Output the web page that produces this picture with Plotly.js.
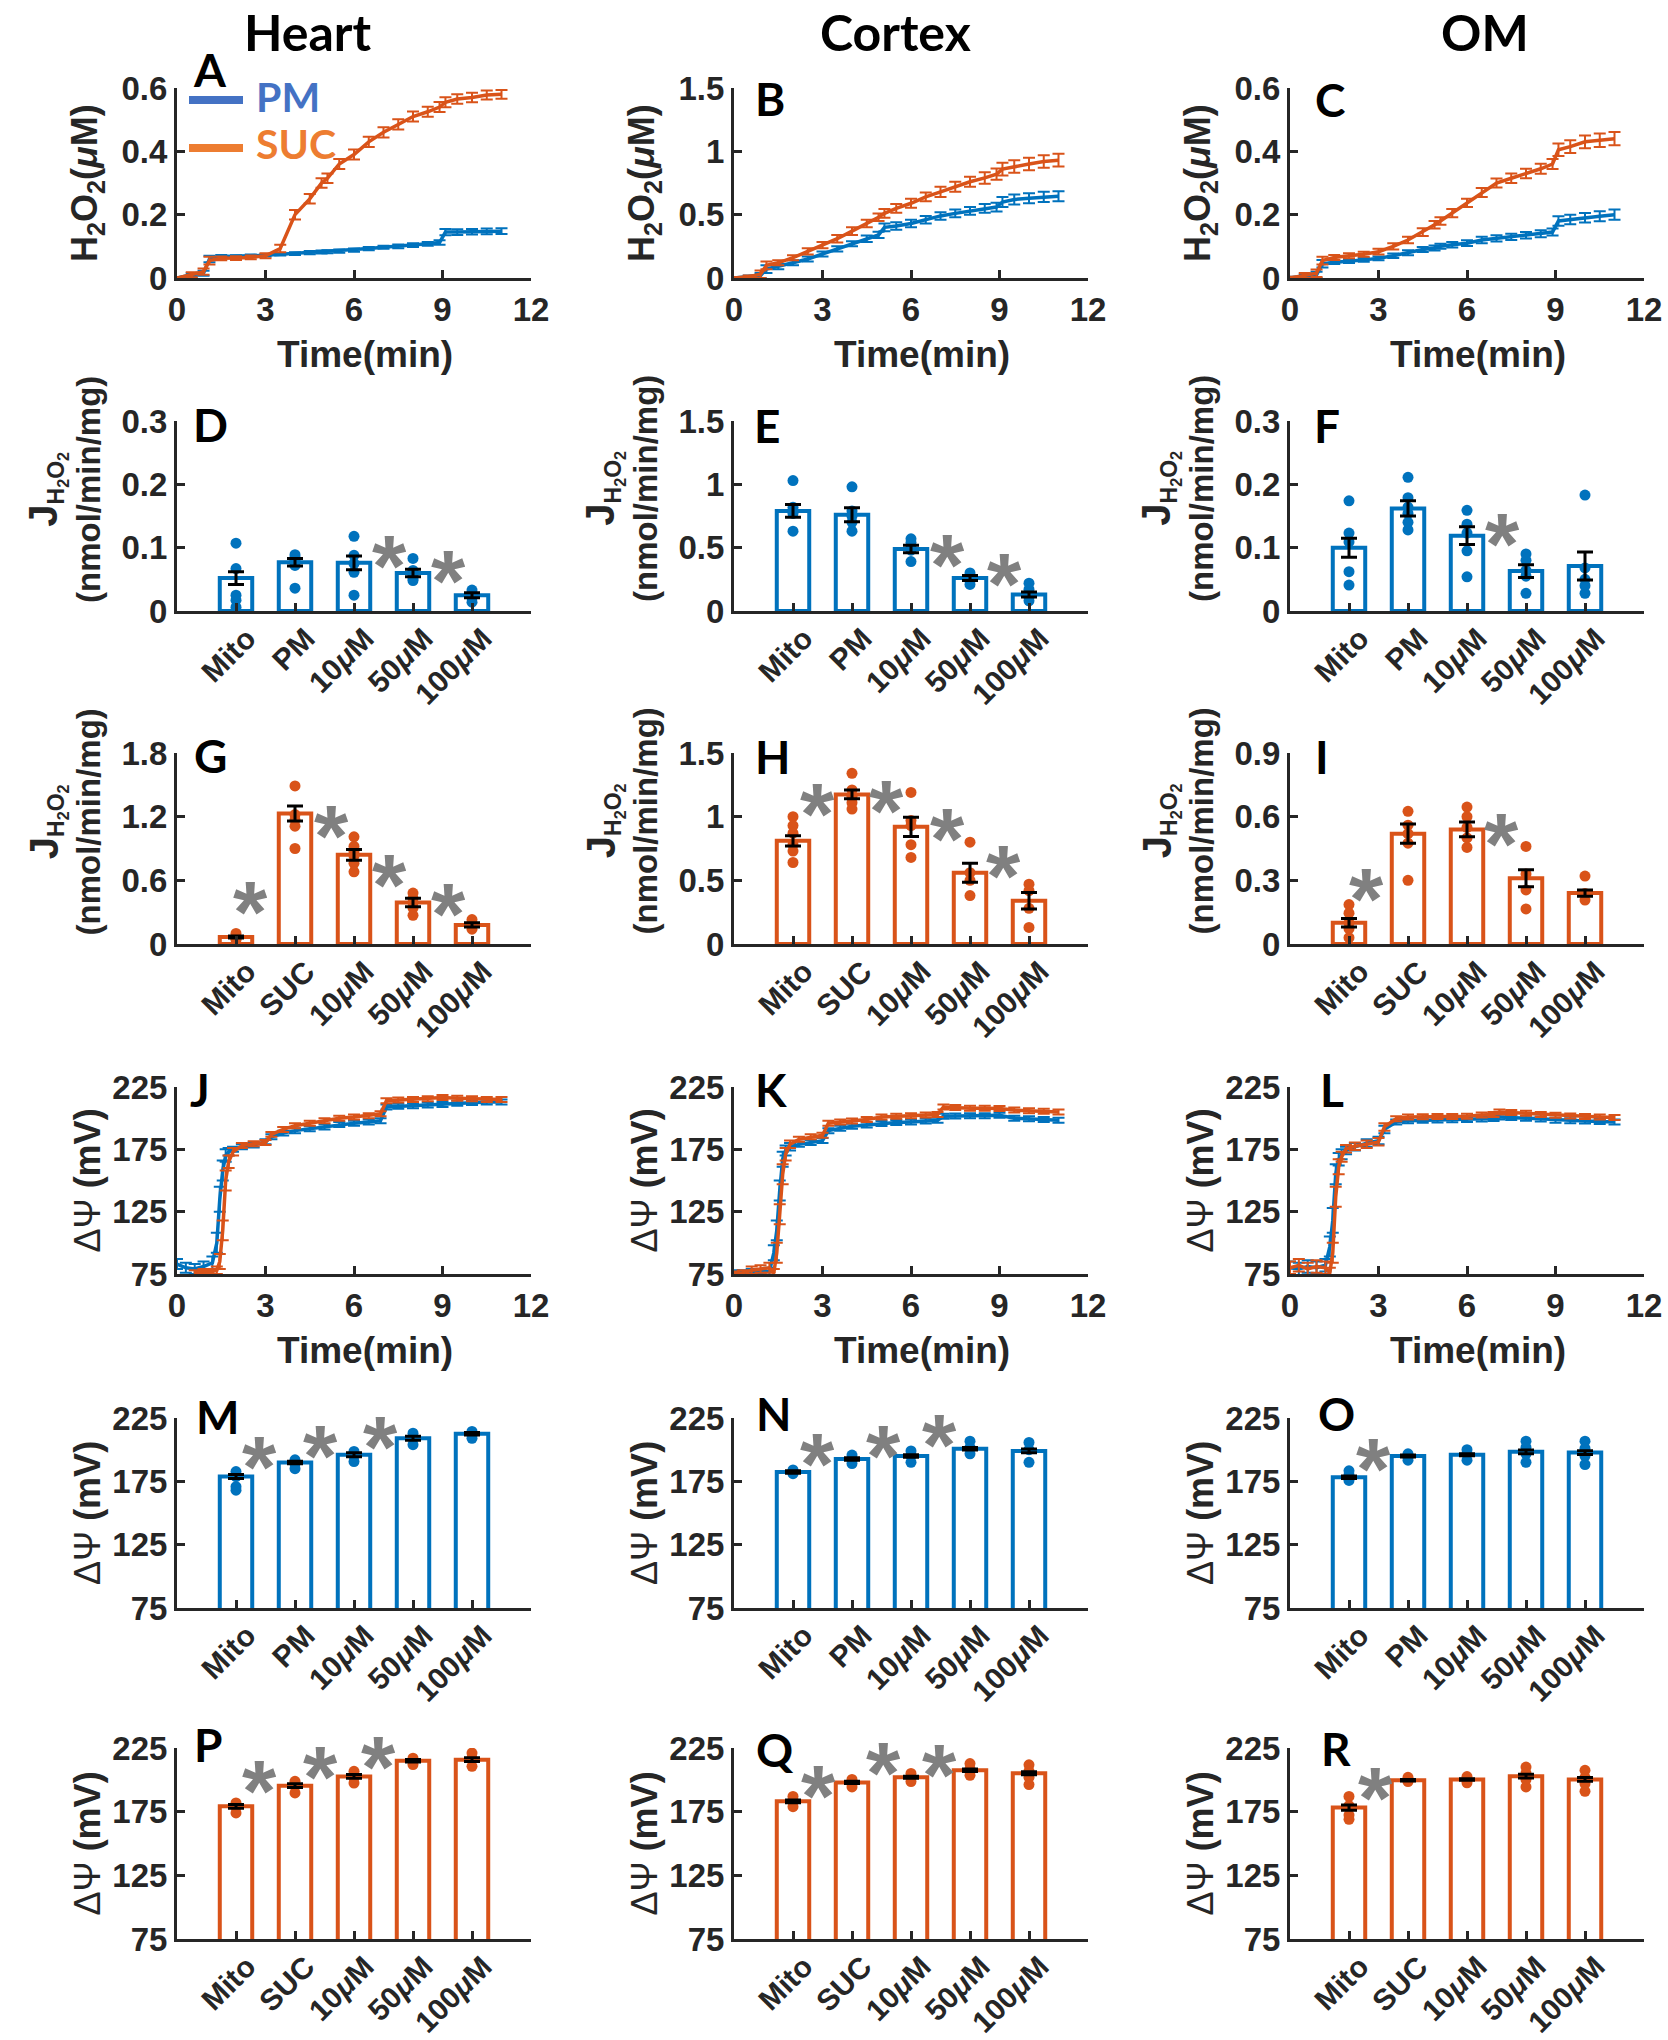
<!DOCTYPE html>
<html><head><meta charset="utf-8">
<script src="https://cdn.plot.ly/plotly-3.0.1.min.js"></script>
<style>html,body{margin:0;padding:0;background:#fff}#chart{width:1668px;height:2040px}</style>
</head><body><div id="chart"></div>
<script>
// ---------------- DATA ----------------
const tH2O2 = [0,0.5,0.9,1.1,1.5,2,2.5,3,3.5,4,4.5,4.9,5.1,5.5,6,6.5,7,7.5,8,8.5,8.9,9.1,9.5,10,10.5,11];
const A_PM = [0,0.01,0.015,0.06,0.068,0.068,0.07,0.072,0.075,0.077,0.08,0.082,0.083,0.085,0.088,0.093,0.097,0.10,0.104,0.108,0.112,0.145,0.145,0.146,0.147,0.148];
const A_PM_err = [0.003,0.006,0.008,0.01,0.005,0.004,0.004,0.004,0.004,0.004,0.005,0.005,0.005,0.005,0.005,0.005,0.005,0.006,0.006,0.006,0.007,0.01,0.009,0.009,0.009,0.009];
const A_SUC = [0,0.01,0.02,0.055,0.062,0.063,0.065,0.07,0.093,0.20,0.25,0.30,0.315,0.36,0.39,0.43,0.46,0.485,0.51,0.525,0.54,0.555,0.565,0.57,0.578,0.58];
const A_SUC_err = [0.003,0.008,0.01,0.012,0.006,0.006,0.006,0.008,0.012,0.015,0.015,0.015,0.015,0.016,0.016,0.016,0.016,0.016,0.016,0.016,0.016,0.016,0.015,0.015,0.014,0.014];
const B_PM = [0,0.01,0.02,0.07,0.09,0.12,0.15,0.19,0.23,0.27,0.31,0.34,0.40,0.41,0.43,0.46,0.49,0.51,0.53,0.55,0.56,0.60,0.62,0.63,0.64,0.645];
const B_PM_err = [0.005,0.01,0.02,0.03,0.02,0.02,0.02,0.02,0.02,0.02,0.025,0.025,0.03,0.03,0.03,0.03,0.03,0.03,0.03,0.035,0.035,0.04,0.04,0.04,0.04,0.04];
const B_SUC = [0,0.01,0.03,0.10,0.12,0.16,0.21,0.26,0.31,0.37,0.43,0.48,0.51,0.55,0.59,0.64,0.68,0.72,0.76,0.79,0.82,0.86,0.88,0.90,0.92,0.93];
const B_SUC_err = [0.005,0.01,0.03,0.03,0.02,0.02,0.025,0.025,0.03,0.03,0.03,0.03,0.035,0.035,0.035,0.035,0.04,0.04,0.04,0.045,0.045,0.05,0.05,0.05,0.05,0.05];
const C_PM = [0,0.005,0.01,0.045,0.05,0.053,0.057,0.062,0.07,0.08,0.09,0.095,0.10,0.105,0.11,0.12,0.125,0.13,0.135,0.14,0.145,0.18,0.185,0.19,0.195,0.20];
const C_PM_err = [0.004,0.006,0.01,0.012,0.006,0.006,0.006,0.006,0.007,0.008,0.008,0.008,0.008,0.009,0.009,0.01,0.01,0.01,0.01,0.011,0.011,0.015,0.015,0.015,0.016,0.016];
const C_SUC = [0,0.008,0.015,0.055,0.065,0.07,0.075,0.083,0.10,0.12,0.145,0.168,0.18,0.205,0.237,0.27,0.30,0.315,0.33,0.345,0.36,0.405,0.415,0.43,0.435,0.44];
const C_SUC_err = [0.004,0.008,0.012,0.012,0.008,0.008,0.008,0.009,0.01,0.01,0.012,0.012,0.012,0.013,0.013,0.014,0.014,0.015,0.015,0.016,0.016,0.02,0.02,0.02,0.021,0.021];

const tPsi = [0,0.3,0.6,0.9,1.2,1.35,1.45,1.55,1.65,1.75,1.9,2.2,2.6,3,3.2,3.6,4,4.5,5,5.5,6,6.5,6.9,7.1,7.5,8,8.5,9,9.5,10,10.5,11];
const J_PM = [83,80,79,81,84,100,135,158,170,173,175,177,178.5,181,185,188,190,191.5,193,195,196,197,198,209,209.5,210,210.5,211,212,212.5,213,213];
const J_PM_err = [4,4,4,4,5,8,10,8,5,3,2,2,2,2,2,2,2,2,2,2,2,2,2,2,2,2,2,2,2,2,2,2];
const J_SUC = [null,null,76,77,77,78,85,110,150,165,173,178,179.5,180.5,187,191,194,196,198,200,201,202,203.5,214,214.5,215,215.5,216.5,216,215.5,215,215];
const J_SUC_err = [0,0,2,2,2,3,6,8,8,5,3,2,2,2,2,2,2,2,2,2,2,2,2,2,2,2,2,2,2,2,2,2];
const K_PM = [76,76,77,77,77,92,110,142,167,174,177,179,180.5,182,190,192,193.5,194.5,195.7,196.5,197,197.8,198.3,201.5,201.7,202,202,202.3,200,199.5,199,198.3];
const K_PM_err = [2,2,2,2,3,6,8,8,6,4,3,2,2,2,2,2,2,2,2,2,2,2,2,2,2,2,2,2,2,2,2,2];
const K_SUC = [75,76,78,79,80,76,92,123,155,171,179,183,185,186.3,196,197,197.8,199,201,201.5,202,202.5,203,209,208.5,208,208,207.7,206.5,206,205.5,205];
const K_SUC_err = [2,2,3,3,4,3,8,8,8,5,3,2,2,2,2,2,2,2,2,2,2,2,2,2,2,2,2,2,2,2,2,2];
const L_PM = [80,79,81,80,82,97,118,155,167,171,174,177,180,182,191,197,198,198.3,198.5,198.7,199,199.3,199.7,201,200.5,200,199.3,198.3,198,197.7,197.3,197];
const L_PM_err = [5,5,5,5,5,8,10,8,5,4,3,3,3,3,3,2,2,2,2,2,2,2,2,2,2,2,2,2,2,2,2,2];
const L_SUC = [80,82,79,81,80,76,92,137,161,169,175.5,177.5,179,181,193,199.5,201,201.2,201.3,201.4,201.5,202.5,203,205,204.5,204,203,202.3,201.8,201.3,201,200.5];
const L_SUC_err = [5,5,5,5,5,4,8,8,6,4,3,3,3,3,3,2,2,2,2,2,2,2,2,2,2,2,2,2,2,2,2,2];

const catPM = ['Mito','PM','10μM','50μM','100μM'];
const catSUC = ['Mito','SUC','10μM','50μM','100μM'];
const labPM = ['Mito','PM','10<i>μ</i>M','50<i>μ</i>M','100<i>μ</i>M'];
const labSUC = ['Mito','SUC','10<i>μ</i>M','50<i>μ</i>M','100<i>μ</i>M'];

const D_mean = [0.052,0.077,0.076,0.060,0.025];
const D_sem = [0.010,0.006,0.011,0.006,0.004];
const D_pts = [[0.107,0.067,0.025,0.017,0.006],[0.089,0.085,0.080,0.072,0.036],[0.118,0.088,0.075,0.061,0.025],[0.083,0.064,0.056,0.051,0.048],[0.033,0.028,0.027,0.021,0.014]];
const D_sigX = [2.6,3.6], D_sigY = [0.09,0.067];

const E_mean = [0.79,0.76,0.49,0.26,0.13];
const E_sem = [0.05,0.055,0.03,0.02,0.02];
const E_pts = [[1.03,0.82,0.79,0.77,0.63],[0.98,0.79,0.75,0.70,0.63],[0.57,0.54,0.50,0.48,0.39],[0.30,0.27,0.25,0.24,0.21],[0.22,0.17,0.14,0.11,0.08]];
const E_sigX = [2.62,3.59], E_sigY = [0.46,0.31];

const F_mean = [0.10,0.162,0.119,0.063,0.071];
const F_sem = [0.015,0.012,0.014,0.01,0.022];
const F_pts = [[0.174,0.123,0.109,0.062,0.041],[0.211,0.179,0.164,0.154,0.14,0.128],[0.159,0.137,0.123,0.095,0.054],[0.09,0.08,0.064,0.055,0.028],[0.183,0.068,0.05,0.04,0.028]];
const F_sigX = [2.61], F_sigY = [0.126];

const G_mean = [0.066,1.23,0.84,0.39,0.18];
const G_sem = [0.01,0.07,0.05,0.04,0.02];
const G_pts = [[0.10,0.07,0.05,0.04],[1.49,1.22,1.17,1.11,0.90],[1.01,0.92,0.87,0.83,0.76,0.68],[0.48,0.43,0.39,0.34,0.27],[0.23,0.20,0.18,0.14]];
const G_sigX = [0.25,1.62,2.6,3.6], G_sigY = [0.42,1.14,0.67,0.40];

const H_mean = [0.81,1.175,0.92,0.56,0.34];
const H_sem = [0.04,0.035,0.075,0.075,0.065];
const H_pts = [[1.0,0.93,0.87,0.78,0.73,0.64],[1.34,1.21,1.16,1.11,1.06],[1.19,0.97,0.93,0.78,0.68],[0.80,0.56,0.50,0.38],[0.47,0.42,0.28,0.13]];
const H_sigX = [0.41,1.59,2.62,3.56], H_sigY = [1.12,1.14,0.92,0.63];

const I_mean = [0.10,0.52,0.54,0.31,0.24];
const I_sem = [0.02,0.045,0.035,0.04,0.015];
const I_pts = [[0.186,0.145,0.10,0.072,0.03],[0.625,0.56,0.52,0.475,0.30],[0.645,0.60,0.55,0.50,0.455],[0.46,0.33,0.255,0.165],[0.32,0.238,0.207]];
const I_sigX = [0.30,2.58], I_sigY = [0.27,0.53];

const M_mean = [178.8,189.9,196,209,212.6];
const M_sem = [1.5,1,1.5,1.5,1];
const M_pts = [[182.7,178.8,170.8,168],[192,189,185],[198.6,195,190.6],[213,209,203.9],[214.4,211.8,209]];
const M_sigX = [0.40,1.44,2.45], M_sigY = [196,205,211.8];

const N_mean = [182.3,192.7,195,200.7,199];
const N_sem = [1,1,1,1,1.5];
const N_pts = [[184,181],[195.7,191.7,189],[199,195,190],[206.7,201.7,196.7],[205.7,200,190]];
const N_sigX = [0.41,1.53,2.49], N_sigY = [198.3,205,213.3];

const O_mean = [178.3,195,196,198.3,197.7];
const O_sem = [1,0.8,0.8,1.5,1.5];
const O_pts = [[183.3,180,175.7],[196.7,194.3,191.7],[200,196.7,191.7],[206.7,201.7,196.7,190],[206.7,201,195,188.3]];
const O_sigX = [0.42], O_sigY = [195];

const P_mean = [179.2,195.4,202.7,215,215.8];
const P_sem = [1.5,1.5,1.5,1,1.5];
const P_pts = [[181.8,178.7,174],[198.8,194.9,189.7],[206.7,201.4,197.5],[217,214.5,212],[221,217,210.6]];
const P_sigX = [0.40,1.44,2.42], P_sigY = [201.4,211.9,219.8];

const Q_mean = [183.1,198,202,207.5,205.2];
const Q_sem = [1,0.8,0.8,1,1.2];
const Q_pts = [[187,183.8,178.9],[200.3,197,194.4],[205,202,198.6],[212.8,208.5,203.6],[211.8,206.9,202,196.3]];
const Q_sigX = [0.44,1.53,2.49], Q_sigY = [197,215,213.5];

const R_mean = [178.2,199.6,200.3,202.9,200.3];
const R_sem = [2,0.6,0.6,1.5,1.5];
const R_pts = [[187,179.8,172.3,169],[202,198.6],[202.6,200.3,197.7],[210,205.2,200.3,194.4],[207.5,202,197,191]];
const R_sigX = [0.45], R_sigY = [195.3];

const colTitles = ['Heart','Cortex','OM'];
const panelLetters = ['A','B','C','D','E','F','G','H','I','J','K','L','M','N','O','P','Q','R'];
const legendNames = ['PM','SUC'];

// ---------------- LAYOUT ----------------
const W = 1668, H = 2040;
const BLUE = '#0072BD', ORANGE = '#D95319', AXC = '#262626', GREY = '#808080';
const FONT = 'Liberation Sans, Arial, sans-serif';
const TFONT = 'Lato, Open Sans, sans-serif';
const colX = [[177,531],[734,1088],[1290,1644]];
const rowY = [[88,278],[421,611],[753,944],[1087,1274],[1418,1608],[1748,1939]];
const px = p => p / W, py = p => 1 - p / H;
const xr = n => n === 1 ? 'x' : 'x' + n;
const yr = n => n === 1 ? 'y' : 'y' + n;

const layout = {width:W, height:H, margin:{l:0,r:0,t:0,b:0}, paper_bgcolor:'#fff', plot_bgcolor:'rgba(0,0,0,0)',
  showlegend:false, font:{family:FONT, color:AXC, size:32, weight:'bold'}, annotations:[], shapes:[]};
const traces = [];

function axisBase(){
  return {showline:true, linewidth:3, linecolor:AXC, ticks:'inside', ticklen:8, tickwidth:3, tickcolor:AXC,
    showgrid:false, zeroline:false, fixedrange:true, automargin:false,
    tickfont:{family:FONT, size:33, color:AXC, weight:'bold'}};
}
function setAxes(n, r, c, xopt, yopt){
  const xa = Object.assign(axisBase(), {domain:[px(colX[c][0]), px(colX[c][1])], anchor:yr(n)}, xopt);
  const ya = Object.assign(axisBase(), {domain:[py(rowY[r][1]), py(rowY[r][0])], anchor:xr(n)}, yopt);
  layout[n === 1 ? 'xaxis' : 'xaxis' + n] = xa;
  layout[n === 1 ? 'yaxis' : 'yaxis' + n] = ya;
}
function ann(o){ layout.annotations.push(Object.assign({showarrow:false, xref:'paper', yref:'paper', xanchor:'center', yanchor:'middle'}, o)); }

function linePanel(n, r, c, t, pm, pmE, suc, sucE, yRange, yTicks, ytitle){
  setAxes(n, r, c, {range:[0,12], tickvals:[0,3,6,9,12], ticklabelstandoff:0},
                   {range:yRange, tickvals:yTicks, ticklabelstandoff:0});
  [[pm,pmE,BLUE],[suc,sucE,ORANGE]].forEach(([y,e,col]) => traces.push({
    type:'scatter', mode:'lines', x:t, y:y, xaxis:xr(n), yaxis:yr(n),
    line:{color:col, width:3.5}, error_y:{type:'data', array:e, visible:true, color:col, thickness:2, width:6}
  }));
  ann({x:px((colX[c][0]+colX[c][1])/2 + 11), y:py(rowY[r][1]+76), text:'Time(min)', font:{family:FONT,size:37,color:AXC,weight:'bold'}});
  ann({x:px(colX[c][0]-90), y:py((rowY[r][0]+rowY[r][1])/2), text:ytitle, textangle:-90, font:{family:FONT,size:36,color:AXC,weight:'bold'}});
}

function barPanel(n, r, c, cats, labels, mean, sem, pts, sigX, sigY, col, yRange, yTicks, ytitle, twoLine){
  setAxes(n, r, c, {type:'category', categoryorder:'array', categoryarray:cats, range:[-1,5], tickmode:'array',
                    tickvals:cats, ticktext:labels, tickangle:-45, ticklabelstandoff:-5, ticklabelshift:11,
                    tickfont:{family:FONT, size:30, color:AXC, weight:'bold'}},
                   {range:yRange, tickvals:yTicks, ticklabelstandoff:0});
  traces.push({type:'bar', x:cats, y:mean, width:0.55, xaxis:xr(n), yaxis:yr(n),
    marker:{color:'#ffffff', line:{color:col, width:4}}});
  const sx = [], sy = [];
  pts.forEach((arr, i) => arr.forEach(v => { sx.push(cats[i]); sy.push(v); }));
  traces.push({type:'scatter', mode:'markers', x:sx, y:sy, xaxis:xr(n), yaxis:yr(n), marker:{color:col, size:11}});
  traces.push({type:'scatter', mode:'markers', x:cats, y:mean, xaxis:xr(n), yaxis:yr(n),
    marker:{size:2, color:'rgba(0,0,0,0)'}, error_y:{type:'data', array:sem, visible:true, color:'#000', thickness:3, width:8}});
  sigX.forEach((x, i) => layout.annotations.push({xref:xr(n), yref:yr(n), x:x, y:sigY[i], text:'*', showarrow:false,
    xanchor:'center', yanchor:'middle', yshift:-12, font:{family:FONT, size:88, color:GREY, weight:'bold'}}));
  const yc = (rowY[r][0]+rowY[r][1])/2;
  ann({x:px(colX[c][0] - (twoLine ? 113 : 90)), y:py(twoLine ? yc - 27 : yc), text:ytitle, textangle:-90,
       font:{family:FONT,size:(twoLine ? 33 : 36),color:AXC,weight:'bold'}});
}

const tH = 'H<sub>2</sub>O<sub>2</sub>(<i>μ</i>M)';
const tJ = '<span style="font-size:40px">J</span><sub>H<sub>2</sub>O<sub>2</sub></sub><br>(nmol/min/mg)';
const tP = '<span style="font-weight:normal">ΔΨ</span> (mV)';

linePanel(1,0,0,tH2O2,A_PM,A_PM_err,A_SUC,A_SUC_err,[0,0.6],[0,0.2,0.4,0.6],tH);
linePanel(2,0,1,tH2O2,B_PM,B_PM_err,B_SUC,B_SUC_err,[0,1.5],[0,0.5,1,1.5],tH);
linePanel(3,0,2,tH2O2,C_PM,C_PM_err,C_SUC,C_SUC_err,[0,0.6],[0,0.2,0.4,0.6],tH);

barPanel(4,1,0,catPM,labPM,D_mean,D_sem,D_pts,D_sigX,D_sigY,BLUE,[0,0.3],[0,0.1,0.2,0.3],tJ,true);
barPanel(5,1,1,catPM,labPM,E_mean,E_sem,E_pts,E_sigX,E_sigY,BLUE,[0,1.5],[0,0.5,1,1.5],tJ,true);
barPanel(6,1,2,catPM,labPM,F_mean,F_sem,F_pts,F_sigX,F_sigY,BLUE,[0,0.3],[0,0.1,0.2,0.3],tJ,true);

barPanel(7,2,0,catSUC,labSUC,G_mean,G_sem,G_pts,G_sigX,G_sigY,ORANGE,[0,1.8],[0,0.6,1.2,1.8],tJ,true);
barPanel(8,2,1,catSUC,labSUC,H_mean,H_sem,H_pts,H_sigX,H_sigY,ORANGE,[0,1.5],[0,0.5,1,1.5],tJ,true);
barPanel(9,2,2,catSUC,labSUC,I_mean,I_sem,I_pts,I_sigX,I_sigY,ORANGE,[0,0.9],[0,0.3,0.6,0.9],tJ,true);

linePanel(10,3,0,tPsi,J_PM,J_PM_err,J_SUC,J_SUC_err,[75,225],[75,125,175,225],tP);
linePanel(11,3,1,tPsi,K_PM,K_PM_err,K_SUC,K_SUC_err,[75,225],[75,125,175,225],tP);
linePanel(12,3,2,tPsi,L_PM,L_PM_err,L_SUC,L_SUC_err,[75,225],[75,125,175,225],tP);

barPanel(13,4,0,catPM,labPM,M_mean,M_sem,M_pts,M_sigX,M_sigY,BLUE,[75,225],[75,125,175,225],tP,false);
barPanel(14,4,1,catPM,labPM,N_mean,N_sem,N_pts,N_sigX,N_sigY,BLUE,[75,225],[75,125,175,225],tP,false);
barPanel(15,4,2,catPM,labPM,O_mean,O_sem,O_pts,O_sigX,O_sigY,BLUE,[75,225],[75,125,175,225],tP,false);

barPanel(16,5,0,catSUC,labSUC,P_mean,P_sem,P_pts,P_sigX,P_sigY,ORANGE,[75,225],[75,125,175,225],tP,false);
barPanel(17,5,1,catSUC,labSUC,Q_mean,Q_sem,Q_pts,Q_sigX,Q_sigY,ORANGE,[75,225],[75,125,175,225],tP,false);
barPanel(18,5,2,catSUC,labSUC,R_mean,R_sem,R_pts,R_sigX,R_sigY,ORANGE,[75,225],[75,125,175,225],tP,false);

// column titles
[[307,32],[895,32],[1485,32]].forEach((p,i) => ann({x:px(p[0]), y:py(p[1]), text:colTitles[i],
  font:{family:TFONT, size:50, color:'#000', weight:'bold'}}));
// panel letters
const letterPos = [[210,70],[770,98],[1330,99],[211,424],[767,425],[1327,425],[210,755],[772,756],[1322,756],
  [200,1089],[771,1089],[1332,1089],[217,1416],[773,1413],[1336,1413],[208,1744],[775,1749],[1336,1748]];
letterPos.forEach((p,i) => ann({x:px(p[0]), y:py(p[1]), text:panelLetters[i],
  font:{family:TFONT, size:46, color:'#000', weight:'bold'}}));
// legend in panel A
const legCol = ['#4472C4','#ED7D31'], legY = [100,148];
legendNames.forEach((nm,i) => {
  layout.shapes.push({type:'line', xref:'paper', yref:'paper', x0:px(189), x1:px(243), y0:py(legY[i]), y1:py(legY[i]),
    line:{color:legCol[i], width:8}});
  ann({x:px(254), y:py(legY[i]-4), xanchor:'left', text:nm, font:{family:TFONT, size:41, color:legCol[i], weight:'bold'}});
});

Plotly.newPlot('chart', traces, layout, {staticPlot:true, displayModeBar:false});
</script></body></html>
